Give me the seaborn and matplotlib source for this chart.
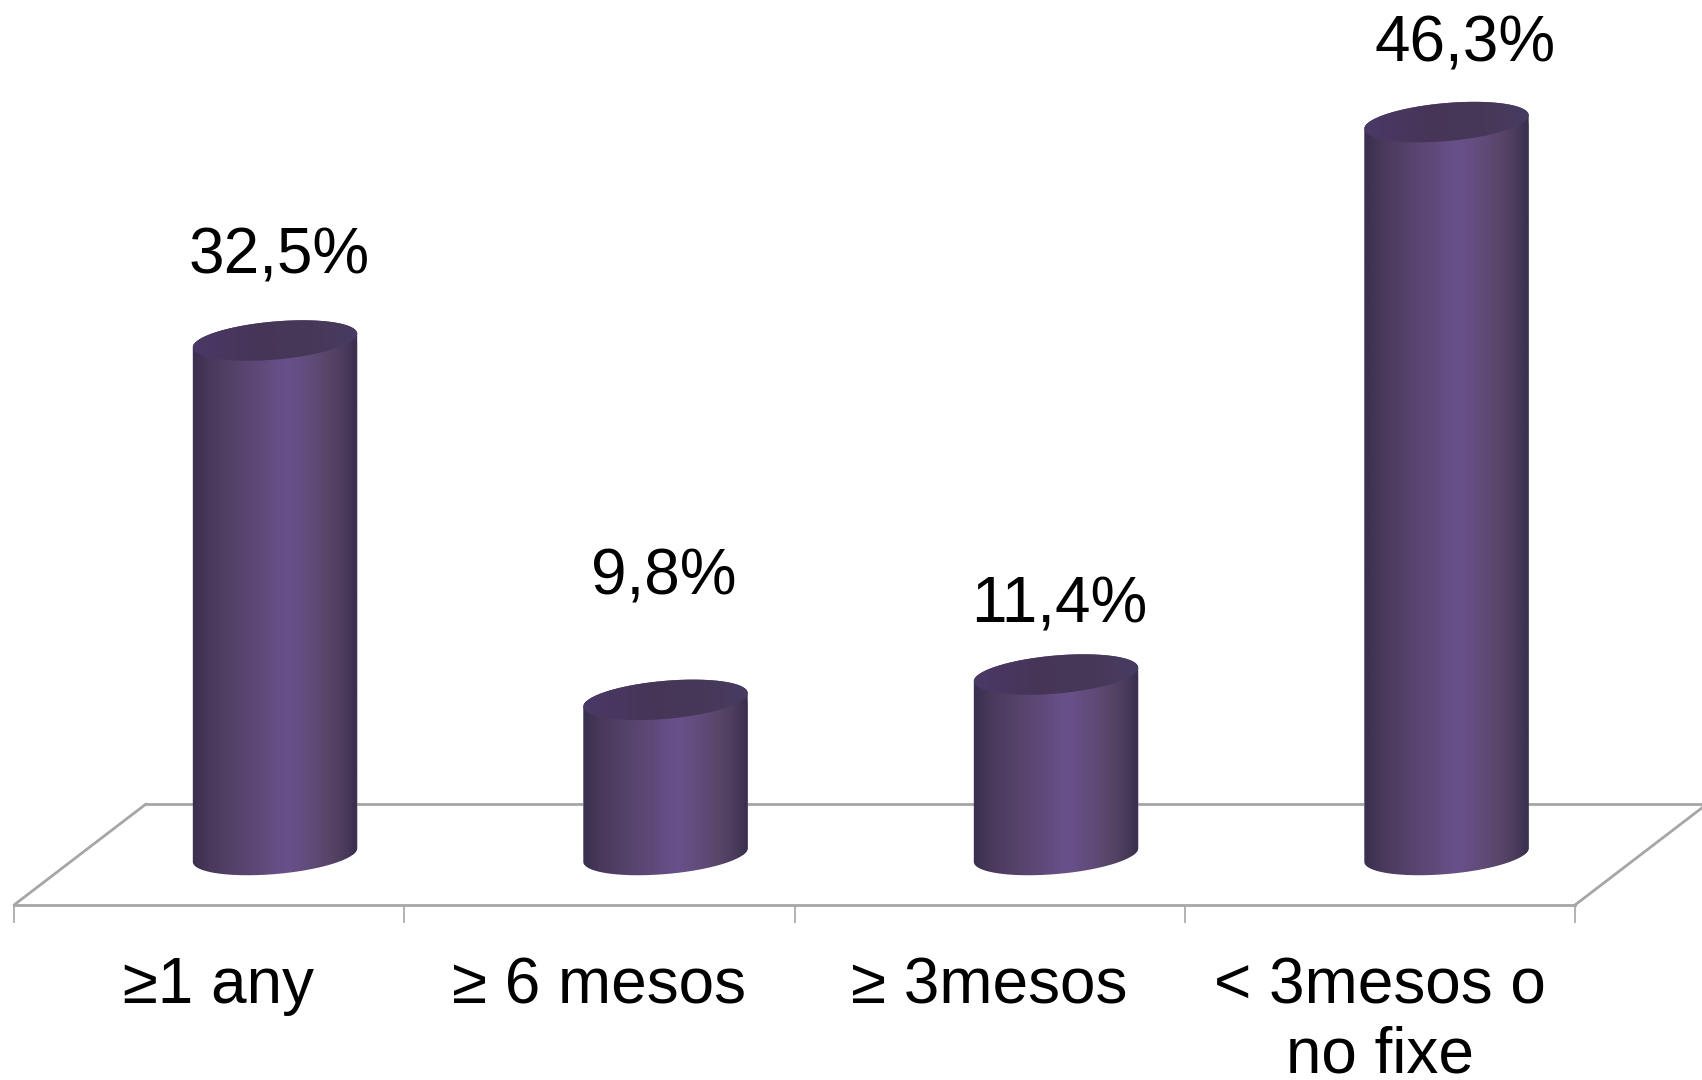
"""Cylinder bar chart: share of respondents by time frame."""

import matplotlib.pyplot as plt
import numpy as np
import seaborn as sns
from matplotlib.path import Path
from matplotlib.transforms import IdentityTransform

# data
CATEGORIES = [" ≥1 any", "≥ 6 mesos", "≥ 3mesos", "< 3mesos o\nno fixe"]
VALUES = [32.5, 9.8, 11.4, 46.3]
VALUE_LABELS = ["32,5%", "9,8%", "11,4%", "46,3%"]

# label nudges in pixels, the labels were moved by hand in the original
LABEL_DX = [4, -2, 3, 19]
LABEL_DY = [84, 122, 69, 78]

W, H = 1702, 1080
BASE_Y = 855  # pixel row of the bars' foot
PX_PER_UNIT = 15.83
FONT_SIZE = 46
GREY = "#a6a6a6"

SIDE_STOPS = ["#3c3050", "#483859", "#4f3d62", "#55426a", "#5a4672", "#5f497a",
              "#654e84", "#68508a", "#644d80", "#5e4a76", "#584568", "#4e3e5e",
              "#3c3050"]
TOP_STOPS = ["#4a3866", "#493762", "#48365c", "#473558", "#473657", "#463757",
             "#463858", "#473a5c", "#483a62"]


def hex_strip(stops):
    rgb = [[int(c[i:i + 2], 16) / 255 for i in (1, 3, 5)] for c in stops]
    return np.array([rgb])


def ellipse_pts(cx, cy, a, b, tilt, start, stop):
    t = np.radians(np.linspace(start, stop, 60))
    r = np.radians(tilt)
    ex, ey = a * np.cos(t), b * np.sin(t)
    return np.column_stack([cx + ex * np.cos(r) - ey * np.sin(r),
                            cy + ex * np.sin(r) + ey * np.cos(r)])


def draw_cylinder(ax, bar):
    left, width, height = bar.get_x(), bar.get_width(), bar.get_height()
    (x0, y0), (x1, y1) = ax.transData.transform([(left, 0), (left + width, height)])
    cx = (x0 + x1) / 2
    a, b, tilt = (x1 - x0) / 2 + 0.5, 19, 5

    top_half = ellipse_pts(cx, y1, a, b, tilt, 0, 180)
    low_half = ellipse_pts(cx, y0, a, b, tilt, 180, 360)
    body = Path(np.vstack([top_half, low_half, top_half[:1]]), closed=True)
    lid = Path(ellipse_pts(cx, y1, a, b, tilt, 0, 360), closed=True)

    # the bar's own colour sits under the gradient, so clip it as well
    bar.set_clip_path(body, IdentityTransform())

    below = -(b + 8) / PX_PER_UNIT
    above = height + (b + 8) / PX_PER_UNIT
    extent = [left - 0.01, left + width + 0.01, below, above]
    side = ax.imshow(hex_strip(SIDE_STOPS), extent=extent, aspect="auto",
                     interpolation="bilinear", zorder=3)
    side.set_clip_path(body, IdentityTransform())
    cap = ax.imshow(hex_strip(TOP_STOPS), extent=extent, aspect="auto",
                    interpolation="bilinear", zorder=4)
    cap.set_clip_path(lid, IdentityTransform())


def main():
    sns.set_style("white")
    plt.rcParams["font.family"] = ["Liberation Sans", "DejaVu Sans"]

    fig = plt.figure(figsize=(W / 100, H / 100), dpi=100)

    # floor with the category axis, in its own axes
    floor_left, floor_right, front_y, back_y = 14, 1575, 905, 804
    floor = fig.add_axes([floor_left / W, (H - front_y) / H,
                          (floor_right - floor_left) / W, (front_y - back_y) / H])
    floor.set_xlim(0, len(CATEGORIES))
    floor.set_ylim(0, 1)
    floor.patch.set_alpha(0)
    sns.despine(ax=floor, left=True, top=True, right=True)
    floor.spines["bottom"].set_color(GREY)
    floor.spines["bottom"].set_linewidth(2)
    floor.set_yticks([])
    floor.set_xticks(range(len(CATEGORIES) + 1))
    floor.set_xticklabels([])
    floor.tick_params(axis="x", which="major", bottom=True, length=13, width=1.2, color=GREY)
    floor.set_xticks(np.arange(len(CATEGORIES)) + 0.5, minor=True)
    floor.set_xticklabels(CATEGORIES, minor=True, fontsize=FONT_SIZE, color="black",
                          linespacing=1.2)
    floor.tick_params(axis="x", which="minor", bottom=False, length=0, pad=37)

    unit = (floor_right - floor_left) / len(CATEGORIES)
    depth = 132 / unit
    floor.plot([0, depth], [0, 1], color=GREY, lw=2, clip_on=False)
    floor.plot([depth, 4 + (W - floor_right) / unit], [1, 1], color=GREY, lw=2, clip_on=False)
    floor.plot([4, 4 + depth], [0, 1], color=GREY, lw=2, clip_on=False)

    # bars, on a transparent axes over the whole figure height
    first_center, last_center = 275, 1446.5
    step = (last_center - first_center) / (len(CATEGORIES) - 1)
    ax_left = first_center - step / 2
    ax = fig.add_axes([ax_left / W, 0, 4 * step / W, 1])
    sns.barplot(x=CATEGORIES, y=VALUES, ax=ax, width=0.42, color="#5a4672", saturation=1)
    ax.set_xlim(-0.5, 3.5)
    ax.set_ylim(-(H - BASE_Y) / PX_PER_UNIT, BASE_Y / PX_PER_UNIT)
    ax.axis("off")
    ax.patch.set_alpha(0)

    bars = list(ax.patches)
    for bar in bars:
        draw_cylinder(ax, bar)
    ax.set_xlim(-0.5, 3.5)
    ax.set_ylim(-(H - BASE_Y) / PX_PER_UNIT, BASE_Y / PX_PER_UNIT)

    for i, value in enumerate(VALUES):
        ax.annotate(VALUE_LABELS[i], xy=(i, value), xytext=(LABEL_DX[i], LABEL_DY[i]),
                    textcoords="offset pixels", ha="center", va="center",
                    fontsize=FONT_SIZE, color="black", zorder=5)

    fig.savefig("out.png", dpi=100)
    plt.close(fig)


if __name__ == "__main__":
    main()
